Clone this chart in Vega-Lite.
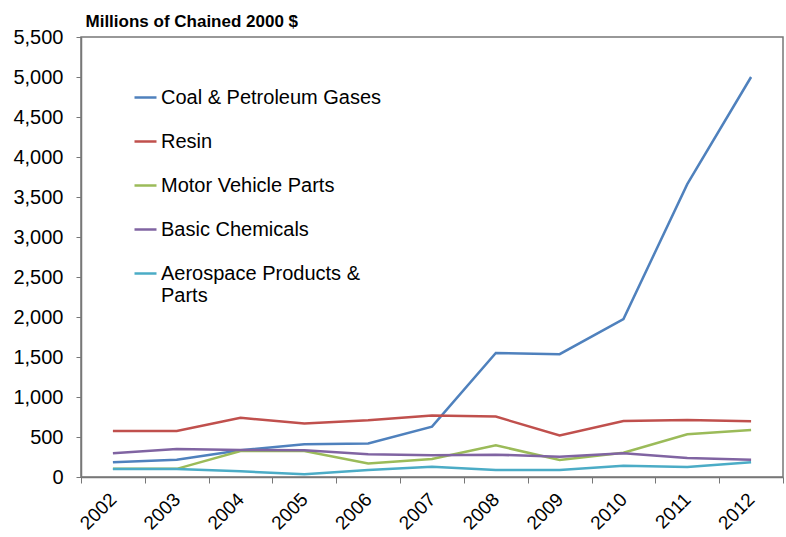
{
  "$schema": "https://vega.github.io/schema/vega-lite/v6.json",
  "width": 702,
  "height": 440,
  "autosize": {"type": "none"},
  "padding": {"left": 81, "top": 37, "right": 3, "bottom": 60},
  "background": "white",
  "config": {
    "font": "Liberation Sans",
    "view": {"stroke": "#777", "strokeWidth": 1.5}
  },
  "data": {
    "values": [
      {"year": "2002", "series": "Coal & Petroleum Gases", "value": 185},
      {"year": "2003", "series": "Coal & Petroleum Gases", "value": 215},
      {"year": "2004", "series": "Coal & Petroleum Gases", "value": 335},
      {"year": "2005", "series": "Coal & Petroleum Gases", "value": 410},
      {"year": "2006", "series": "Coal & Petroleum Gases", "value": 420},
      {"year": "2007", "series": "Coal & Petroleum Gases", "value": 630},
      {"year": "2008", "series": "Coal & Petroleum Gases", "value": 1550},
      {"year": "2009", "series": "Coal & Petroleum Gases", "value": 1535},
      {"year": "2010", "series": "Coal & Petroleum Gases", "value": 1975},
      {"year": "2011", "series": "Coal & Petroleum Gases", "value": 3660},
      {"year": "2012", "series": "Coal & Petroleum Gases", "value": 5000},
      {"year": "2002", "series": "Resin", "value": 575},
      {"year": "2003", "series": "Resin", "value": 575},
      {"year": "2004", "series": "Resin", "value": 740},
      {"year": "2005", "series": "Resin", "value": 670},
      {"year": "2006", "series": "Resin", "value": 710},
      {"year": "2007", "series": "Resin", "value": 770},
      {"year": "2008", "series": "Resin", "value": 755},
      {"year": "2009", "series": "Resin", "value": 520},
      {"year": "2010", "series": "Resin", "value": 700},
      {"year": "2011", "series": "Resin", "value": 712},
      {"year": "2012", "series": "Resin", "value": 698},
      {"year": "2002", "series": "Motor Vehicle Parts", "value": 102},
      {"year": "2003", "series": "Motor Vehicle Parts", "value": 102},
      {"year": "2004", "series": "Motor Vehicle Parts", "value": 325},
      {"year": "2005", "series": "Motor Vehicle Parts", "value": 325},
      {"year": "2006", "series": "Motor Vehicle Parts", "value": 170},
      {"year": "2007", "series": "Motor Vehicle Parts", "value": 225},
      {"year": "2008", "series": "Motor Vehicle Parts", "value": 396},
      {"year": "2009", "series": "Motor Vehicle Parts", "value": 212},
      {"year": "2010", "series": "Motor Vehicle Parts", "value": 304},
      {"year": "2011", "series": "Motor Vehicle Parts", "value": 533},
      {"year": "2012", "series": "Motor Vehicle Parts", "value": 587},
      {"year": "2002", "series": "Basic Chemicals", "value": 296},
      {"year": "2003", "series": "Basic Chemicals", "value": 350},
      {"year": "2004", "series": "Basic Chemicals", "value": 337},
      {"year": "2005", "series": "Basic Chemicals", "value": 335},
      {"year": "2006", "series": "Basic Chemicals", "value": 283},
      {"year": "2007", "series": "Basic Chemicals", "value": 271},
      {"year": "2008", "series": "Basic Chemicals", "value": 279},
      {"year": "2009", "series": "Basic Chemicals", "value": 254},
      {"year": "2010", "series": "Basic Chemicals", "value": 298},
      {"year": "2011", "series": "Basic Chemicals", "value": 237},
      {"year": "2012", "series": "Basic Chemicals", "value": 217},
      {"year": "2002", "series": "Aerospace Products & Parts", "value": 100},
      {"year": "2003", "series": "Aerospace Products & Parts", "value": 100},
      {"year": "2004", "series": "Aerospace Products & Parts", "value": 71},
      {"year": "2005", "series": "Aerospace Products & Parts", "value": 33},
      {"year": "2006", "series": "Aerospace Products & Parts", "value": 87},
      {"year": "2007", "series": "Aerospace Products & Parts", "value": 129},
      {"year": "2008", "series": "Aerospace Products & Parts", "value": 87},
      {"year": "2009", "series": "Aerospace Products & Parts", "value": 87},
      {"year": "2010", "series": "Aerospace Products & Parts", "value": 142},
      {"year": "2011", "series": "Aerospace Products & Parts", "value": 125},
      {"year": "2012", "series": "Aerospace Products & Parts", "value": 183}
    ]
  },
  "mark": {"type": "line", "strokeWidth": 2.5},
  "encoding": {
    "x": {
      "field": "year",
      "type": "ordinal",
      "scale": {"type": "band", "paddingInner": 0, "paddingOuter": 0},
      "axis": {
        "title": null,
        "labelAngle": -45,
        "labelAlign": "right",
        "labelBaseline": "middle",
        "labelFontSize": 19,
        "labelColor": "black",
        "labelPadding": 13,
        "tickBand": "extent",
        "tickSize": 6,
        "tickColor": "#777",
        "domainColor": "#777",
        "domainWidth": 1.5,
        "grid": false
      }
    },
    "y": {
      "field": "value",
      "type": "quantitative",
      "scale": {"domain": [0, 5500], "nice": false},
      "axis": {
        "values": [0, 500, 1000, 1500, 2000, 2500, 3000, 3500, 4000, 4500, 5000, 5500],
        "format": ",d",
        "grid": false,
        "labelFontSize": 20,
        "labelColor": "black",
        "labelPadding": 13,
        "tickSize": 5,
        "tickColor": "#777",
        "domainColor": "#777",
        "domainWidth": 1.5,
        "title": "Millions of Chained 2000 $",
        "titleAngle": 0,
        "titleAlign": "left",
        "titleBaseline": "alphabetic",
        "titleX": 4,
        "titleY": -11,
        "titleFontSize": 17,
        "titleFontWeight": "bold",
        "titleColor": "black"
      }
    },
    "color": {
      "field": "series",
      "type": "nominal",
      "scale": {
        "domain": ["Coal & Petroleum Gases", "Resin", "Motor Vehicle Parts", "Basic Chemicals", "Aerospace Products & Parts"],
        "range": ["#4F81BD", "#C0504D", "#9BBB59", "#8064A2", "#4BACC6"]
      },
      "legend": {
        "title": null,
        "orient": "none",
        "legendX": 52,
        "legendY": 48,
        "symbolType": "stroke",
        "symbolStrokeWidth": 2.5,
        "symbolSize": 484,
        "labelFontSize": 20,
        "labelColor": "black",
        "labelOffset": 3,
        "labelLimit": 400,
        "labelLineHeight": 24,
        "rowPadding": 21,
        "labelExpr": "datum.label == 'Aerospace Products & Parts' ? ['Aerospace Products &', 'Parts'] : datum.label"
      }
    }
  }
}
